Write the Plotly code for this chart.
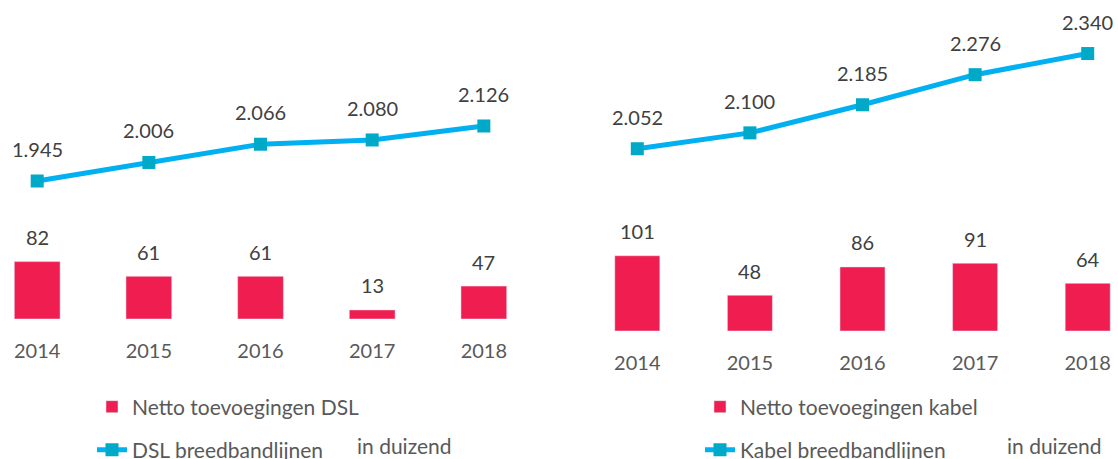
import plotly.graph_objects as go

# ---- data ----
years = ["2014", "2015", "2016", "2017", "2018"]
dsl_net = [82, 61, 61, 13, 47]
dsl_lines = [1945, 2006, 2066, 2080, 2126]
kabel_net = [101, 48, 86, 91, 64]
kabel_lines = [2052, 2100, 2185, 2276, 2340]

name_dsl_bar = "Netto toevoegingen DSL"
name_dsl_line = "DSL breedbandlijnen"
name_kab_bar = "Netto toevoegingen kabel"
name_kab_line = "Kabel breedbandlijnen"
unit_note = "in duizend"

W, H = 1118, 459
BAR = "#F01E50"
LINE = "#00B0F0"
MARK = "#00A9C8"
TXT = "#595959"
LBL = "#404040"
FONT = "Lato"


def nl(v):
    return f"{v:,}".replace(",", ".")


fig = go.Figure()
fig.add_trace(go.Bar(x=years, y=dsl_net, name=name_dsl_bar, xaxis="x", yaxis="y",
                     width=0.41, marker=dict(color=BAR), legend="legend", hoverinfo="skip"))
fig.add_trace(go.Scatter(x=years, y=dsl_lines, name=name_dsl_line, xaxis="x", yaxis="y2",
                         mode="lines+markers", line=dict(color=LINE, width=5),
                         marker=dict(symbol="square", size=13, color=MARK),
                         legend="legend2", hoverinfo="skip"))
fig.add_trace(go.Bar(x=years, y=kabel_net, name=name_kab_bar, xaxis="x2", yaxis="y3",
                     width=0.40, marker=dict(color=BAR), legend="legend3", hoverinfo="skip"))
fig.add_trace(go.Scatter(x=years, y=kabel_lines, name=name_kab_line, xaxis="x2", yaxis="y4",
                         mode="lines+markers", line=dict(color=LINE, width=5),
                         marker=dict(symbol="square", size=13, color=MARK),
                         legend="legend4", hoverinfo="skip"))

annotations = []
for xa, ya_bar, ya_line, nets, lines in (("x", "y", "y2", dsl_net, dsl_lines),
                                         ("x2", "y3", "y4", kabel_net, kabel_lines)):
    for i, (n, l) in enumerate(zip(nets, lines)):
        annotations.append(dict(x=i, y=n, xref=xa, yref=ya_bar, text=str(n), showarrow=False,
                                yanchor="middle", yshift=24.5,
                                font=dict(family=FONT, size=20, color=LBL)))
        annotations.append(dict(x=i, y=l, xref=xa, yref=ya_line, text=nl(l), showarrow=False,
                                yanchor="middle", yshift=32,
                                font=dict(family=FONT, size=20, color=LBL)))

for xp in (355 / W, 1005 / W):
    annotations.append(dict(x=xp, y=(H - 445) / H, xref="paper", yref="paper", text=unit_note,
                            showarrow=False, xanchor="left", yanchor="middle",
                            font=dict(family=FONT, size=21, color=TXT)))

hidden_y = dict(showgrid=False, zeroline=False, showticklabels=False, ticks="", showline=False)
xcommon = dict(type="category", showgrid=False, zeroline=False, showline=False, ticks="",
               ticklabelstandoff=18, tickfont=dict(family=FONT, size=20, color=TXT))

legend_common = dict(bgcolor="rgba(0,0,0,0)", borderwidth=0, xanchor="left", yanchor="middle",
                     font=dict(family=FONT, size=21, color=TXT), orientation="v")

fig.update_layout(
    width=W, height=H,
    margin=dict(l=0, r=0, t=0, b=0, autoexpand=False),
    paper_bgcolor="white", plot_bgcolor="white",
    showlegend=True,
    xaxis=dict(domain=[0, 540 / W], range=[-0.3332, 4.503], anchor="y", **xcommon),
    xaxis2=dict(domain=[575 / W, 1], range=[-0.5533, 4.269], anchor="y3", **xcommon),
    yaxis=dict(domain=[(H - 319) / H, 1], range=[0, 455.7], anchor="x", **hidden_y),
    yaxis2=dict(overlaying="y", range=[1491, 2540.5], anchor="x", **hidden_y),
    yaxis3=dict(domain=[(H - 331) / H, 1], range=[0, 444.3], anchor="x2", **hidden_y),
    yaxis4=dict(overlaying="y3", range=[1500.5, 2502], anchor="x2", **hidden_y),
    legend=dict(x=92 / W, y=(H - 407) / H, **legend_common),
    legend2=dict(x=92 / W, y=(H - 450) / H, **legend_common),
    legend3=dict(x=700 / W, y=(H - 407) / H, **legend_common),
    legend4=dict(x=700 / W, y=(H - 450) / H, **legend_common),
    annotations=annotations,
    bargap=0.5,
)

fig.write_html(
    "out.html",
    config=dict(displayModeBar=False),
    post_script="document.body.style.margin='0';document.body.style.overflow='hidden';",
)
